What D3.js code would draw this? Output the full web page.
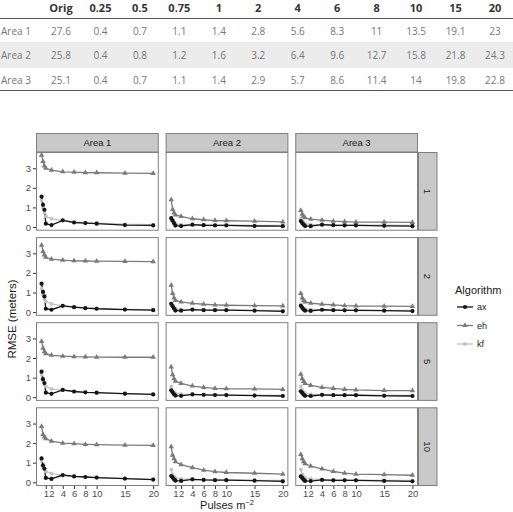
<!DOCTYPE html>
<html>
<head>
<meta charset="utf-8">
<script src="https://cdn.jsdelivr.net/npm/d3@7"></script>
<style>
  body { margin: 0; background: #fff; }
  svg { display: block; }
</style>
</head>
<body>
<svg id="chart" width="513" height="512"></svg>
<script>
// table data
var tableColumns = ['Orig', '0.25', '0.5', '0.75', '1', '2', '4', '6', '8', '10', '15', '20'];
var tableRows = ['Area 1', 'Area 2', 'Area 3'];
var area1Density = ['27.6', '0.4', '0.7', '1.1', '1.4', '2.8', '5.6', '8.3', '11', '13.5', '19.1', '23'];
var area2Density = ['25.8', '0.4', '0.8', '1.2', '1.6', '3.2', '6.4', '9.6', '12.7', '15.8', '21.8', '24.3'];
var area3Density = ['25.1', '0.4', '0.7', '1.1', '1.4', '2.9', '5.7', '8.6', '11.4', '14', '19.8', '22.8'];

// chart data
var pulses = [0.25, 0.5, 0.75, 1, 2, 4, 6, 8, 10, 15, 20];
var xTicks = [1, 2, 4, 6, 8, 10, 15, 20];
var yTicks = [0, 1, 2, 3];
var areas = ['Area 1', 'Area 2', 'Area 3'];
var facets = ['1', '2', '5', '10'];
var algorithms = ['ax', 'eh', 'kf'];

// [facet][area] -> one value per pulse density
var axRmse = [
  [[1.55, 1.13, 0.88, 0.17, 0.1, 0.34, 0.23, 0.2, 0.17, 0.1, 0.08],
   [0.45, 0.33, 0.2, 0.07, 0.05, 0.12, 0.09, 0.08, 0.08, 0.05, 0.04],
   [0.3, 0.2, 0.12, 0.05, 0.04, 0.12, 0.09, 0.08, 0.08, 0.06, 0.04]],
  [[1.45, 1.03, 0.8, 0.17, 0.12, 0.32, 0.25, 0.2, 0.17, 0.13, 0.1],
   [0.42, 0.3, 0.18, 0.08, 0.07, 0.13, 0.1, 0.1, 0.1, 0.07, 0.04],
   [0.32, 0.22, 0.13, 0.07, 0.06, 0.12, 0.1, 0.09, 0.09, 0.07, 0.05]],
  [[1.3, 0.92, 0.72, 0.23, 0.17, 0.37, 0.29, 0.25, 0.23, 0.18, 0.14],
   [0.35, 0.25, 0.15, 0.08, 0.07, 0.14, 0.12, 0.11, 0.11, 0.08, 0.06],
   [0.3, 0.22, 0.13, 0.07, 0.06, 0.12, 0.1, 0.1, 0.1, 0.07, 0.06]],
  [[1.22, 0.87, 0.7, 0.22, 0.17, 0.37, 0.3, 0.27, 0.24, 0.19, 0.14],
   [0.32, 0.25, 0.15, 0.08, 0.07, 0.15, 0.12, 0.11, 0.11, 0.08, 0.05],
   [0.3, 0.22, 0.13, 0.07, 0.06, 0.12, 0.1, 0.1, 0.1, 0.07, 0.05]]
];
var ehRmse = [
  [[3.67, 3.35, 3.12, 3.0, 2.9, 2.82, 2.8, 2.78, 2.77, 2.75, 2.74],
   [1.4, 0.9, 0.72, 0.62, 0.54, 0.42, 0.37, 0.33, 0.32, 0.3, 0.26],
   [0.85, 0.65, 0.55, 0.47, 0.4, 0.35, 0.3, 0.27, 0.25, 0.25, 0.24]],
  [[3.42, 3.1, 2.92, 2.8, 2.7, 2.65, 2.62, 2.61, 2.6, 2.59, 2.58],
   [1.38, 0.95, 0.72, 0.6, 0.52, 0.45, 0.4, 0.37, 0.35, 0.33, 0.32],
   [0.95, 0.72, 0.6, 0.52, 0.46, 0.4, 0.37, 0.33, 0.31, 0.3, 0.29]],
  [[2.85, 2.5, 2.32, 2.22, 2.14, 2.1, 2.07, 2.06, 2.05, 2.04, 2.04],
   [1.55, 1.15, 0.95, 0.82, 0.7, 0.57, 0.5, 0.45, 0.43, 0.42, 0.4],
   [1.17, 0.95, 0.8, 0.7, 0.6, 0.5, 0.45, 0.4, 0.37, 0.34, 0.33]],
  [[2.85, 2.45, 2.32, 2.23, 2.1, 2.0, 1.97, 1.94, 1.92, 1.9, 1.88],
   [1.82, 1.38, 1.2, 1.05, 0.9, 0.75, 0.62, 0.54, 0.5, 0.46, 0.42],
   [1.42, 1.2, 1.05, 0.95, 0.82, 0.68, 0.55, 0.47, 0.42, 0.39, 0.36]]
];
var kfRmse = [
  [[1.35, 1.0, 0.75, 0.55, 0.42, 0.32, 0.25, 0.22, 0.2, 0.14, 0.12],
   [0.35, 0.27, 0.2, 0.16, 0.12, 0.1, 0.1, 0.09, 0.09, 0.08, 0.08],
   [0.45, 0.3, 0.22, 0.17, 0.13, 0.12, 0.11, 0.1, 0.1, 0.09, 0.08]],
  [[1.2, 0.9, 0.7, 0.55, 0.42, 0.32, 0.26, 0.22, 0.19, 0.14, 0.12],
   [0.45, 0.32, 0.24, 0.18, 0.14, 0.12, 0.11, 0.1, 0.1, 0.09, 0.08],
   [0.4, 0.28, 0.2, 0.16, 0.13, 0.12, 0.11, 0.1, 0.1, 0.09, 0.08]],
  [[1.15, 0.85, 0.65, 0.55, 0.42, 0.35, 0.28, 0.25, 0.22, 0.17, 0.14],
   [0.55, 0.35, 0.25, 0.2, 0.16, 0.14, 0.12, 0.12, 0.11, 0.1, 0.09],
   [0.55, 0.35, 0.25, 0.2, 0.15, 0.13, 0.12, 0.11, 0.11, 0.1, 0.09]],
  [[1.1, 0.8, 0.65, 0.55, 0.45, 0.35, 0.3, 0.27, 0.24, 0.19, 0.15],
   [0.65, 0.4, 0.28, 0.22, 0.17, 0.15, 0.13, 0.12, 0.12, 0.1, 0.09],
   [0.65, 0.4, 0.28, 0.22, 0.17, 0.14, 0.12, 0.12, 0.11, 0.1, 0.09]]
];

var svg = d3.select('#chart');
var sans = 'Liberation Sans, Arial, sans-serif';
var tableFont = 'Open Sans, Noto Sans, sans-serif';

// ---- table ----
var colX = d3.scalePoint().domain(tableColumns).range([61, 495]);
var rowY = d3.scalePoint().domain(tableRows).range([31, 80]);
var tableValues = [area1Density, area2Density, area3Density];

svg.append('rect')
  .attr('x', 0).attr('y', 42)
  .attr('width', 513).attr('height', 26)
  .attr('fill', '#ececec');

svg.append('line')
  .attr('x1', 0).attr('x2', 513).attr('y1', 18.5).attr('y2', 18.5)
  .attr('stroke', '#555').attr('stroke-width', 1);
svg.append('line')
  .attr('x1', 0).attr('x2', 513).attr('y1', 90.5).attr('y2', 90.5)
  .attr('stroke', '#555').attr('stroke-width', 1);

svg.append('g').selectAll('text')
  .data(tableColumns)
  .enter().append('text')
  .attr('x', d => colX(d))
  .attr('y', 12)
  .attr('text-anchor', 'middle')
  .attr('font-family', tableFont)
  .attr('font-weight', 'bold')
  .attr('font-size', 11)
  .attr('fill', '#333')
  .text(d => d);

tableRows.forEach(function(row, i) {
  var g = svg.append('g');
  g.append('text')
    .attr('x', 1).attr('y', rowY(row) + 3.5)
    .attr('font-family', tableFont).attr('font-size', 10)
    .attr('fill', '#777')
    .text(row);
  g.selectAll('.cell')
    .data(tableValues[i])
    .enter().append('text')
    .attr('class', 'cell')
    .attr('x', (d, j) => colX(tableColumns[j]))
    .attr('y', rowY(row) + 3.5)
    .attr('text-anchor', 'middle')
    .attr('font-family', tableFont).attr('font-size', 10)
    .attr('fill', '#777')
    .text(d => d);
});

// ---- faceted chart ----
var plotLeft = 36, plotRight = 418, plotTop = 152, plotBottom = 486;
var colScale = d3.scaleBand().domain(areas).range([plotLeft, plotRight]).paddingInner(0.053);
var rowScale = d3.scaleBand().domain(facets).range([plotTop, plotBottom]).paddingInner(0.075);
var pw = colScale.bandwidth(), ph = rowScale.bandwidth();

var xPad = (20 - 0.25) * 0.05;
var x = d3.scaleLinear().domain([0.25 - xPad, 20 + xPad]).range([0, pw]);
var y = d3.scaleLinear().domain([-0.19, 3.83]).range([ph, 0]);

var colour = d3.scaleOrdinal().domain(algorithms).range(['#151515', '#7a7a7a', '#c2c2c2']);
var shape = d3.scaleOrdinal().domain(algorithms)
  .range([d3.symbolCircle, d3.symbolTriangle, d3.symbolSquare]);
var shapeSize = { ax: 14, eh: 13, kf: 11 };
var seriesByAlg = { ax: axRmse, eh: ehRmse, kf: kfRmse };
var drawOrder = ['kf', 'eh', 'ax'];

var line = d3.line()
  .x((d, i) => x(pulses[i]))
  .y(d => y(d));

// column strips
svg.append('g').selectAll('g')
  .data(areas)
  .enter().append('g')
  .attr('transform', d => 'translate(' + colScale(d) + ',133)')
  .each(function(d) {
    var g = d3.select(this);
    g.append('rect').attr('x', 0.5).attr('y', 0.5)
      .attr('width', pw - 1).attr('height', 18.5)
      .attr('fill', '#c9c9c9').attr('stroke', '#7f7f7f');
    g.append('text').attr('x', pw / 2).attr('y', 13.2)
      .attr('text-anchor', 'middle')
      .attr('font-family', sans).attr('font-size', 9.5).attr('fill', '#1a1a1a')
      .text(d);
  });

// row strips
svg.append('g').selectAll('g')
  .data(facets)
  .enter().append('g')
  .attr('transform', d => 'translate(' + plotRight + ',' + rowScale(d) + ')')
  .each(function(d) {
    var g = d3.select(this);
    g.append('rect').attr('x', 0.5).attr('y', 0.5)
      .attr('width', 18.5).attr('height', ph - 1)
      .attr('fill', '#c9c9c9').attr('stroke', '#7f7f7f');
    g.append('text')
      .attr('transform', 'translate(' + 9.5 + ',' + (ph / 2) + ') rotate(90)')
      .attr('text-anchor', 'middle').attr('dy', '0.35em')
      .attr('font-family', sans).attr('font-size', 9.5).attr('fill', '#1a1a1a')
      .text(d);
  });

facets.forEach(function(facet, r) {
  areas.forEach(function(area, c) {
    var panel = svg.append('g')
      .attr('transform', 'translate(' + colScale(area) + ',' + rowScale(facet) + ')');

    panel.append('rect')
      .attr('x', 0.5).attr('y', 0.5)
      .attr('width', pw - 1).attr('height', ph - 1)
      .attr('fill', '#fff').attr('stroke', '#7f7f7f');

    drawOrder.forEach(function(alg) {
      panel.append('path')
        .datum(seriesByAlg[alg][r][c])
        .attr('d', line)
        .attr('fill', 'none')
        .attr('stroke', colour(alg))
        .attr('stroke-width', 1.3);
    });
    drawOrder.forEach(function(alg) {
      panel.selectAll('.pt-' + alg)
        .data(seriesByAlg[alg][r][c])
        .enter().append('path')
        .attr('class', 'pt-' + alg)
        .attr('transform', (d, i) => 'translate(' + x(pulses[i]) + ',' + y(d) + ')')
        .attr('d', d3.symbol().type(shape(alg)).size(shapeSize[alg]))
        .attr('fill', colour(alg));
    });

    if (c === 0) {
      var yAxis = panel.append('g')
        .call(d3.axisLeft(y).tickValues(yTicks).tickSize(3).tickPadding(2).tickFormat(d3.format('d')));
      yAxis.select('.domain').remove();
      yAxis.selectAll('line').attr('stroke', '#333');
      yAxis.selectAll('text').attr('font-family', sans).attr('font-size', 9.5).attr('fill', '#4d4d4d');
    }
    if (r === facets.length - 1) {
      var xAxis = panel.append('g')
        .attr('transform', 'translate(0,' + ph + ')')
        .call(d3.axisBottom(x).tickValues(xTicks).tickSize(3).tickPadding(1.5));
      xAxis.select('.domain').remove();
      xAxis.selectAll('line').attr('stroke', '#333');
      xAxis.selectAll('text').attr('font-family', sans).attr('font-size', 9.5).attr('fill', '#4d4d4d');
    }
  });
});

// axis titles
svg.append('text')
  .attr('transform', 'translate(16,' + ((plotTop + plotBottom) / 2) + ') rotate(-90)')
  .attr('text-anchor', 'middle')
  .attr('font-family', sans).attr('font-size', 11.5).attr('fill', '#1a1a1a')
  .text('RMSE (meters)');

var xTitle = svg.append('text')
  .attr('x', (plotLeft + plotRight) / 2).attr('y', 509)
  .attr('text-anchor', 'middle')
  .attr('font-family', sans).attr('font-size', 11).attr('fill', '#1a1a1a');
xTitle.append('tspan').text('Pulses m');
xTitle.append('tspan').attr('dy', -4.5).attr('font-size', 7.5).text('\u22122');

// legend
var legend = svg.append('g').attr('transform', 'translate(455,0)');
legend.append('text')
  .attr('x', 0).attr('y', 294)
  .attr('font-family', sans).attr('font-size', 11).attr('fill', '#1a1a1a')
  .text('Algorithm');
var keyY = d3.scalePoint().domain(algorithms).range([307, 344]);
algorithms.forEach(function(alg) {
  var k = legend.append('g').attr('transform', 'translate(0,' + keyY(alg) + ')');
  k.append('line').attr('x1', 2).attr('x2', 18)
    .attr('stroke', colour(alg)).attr('stroke-width', 1.3);
  k.append('path').attr('transform', 'translate(10,0)')
    .attr('d', d3.symbol().type(shape(alg)).size(shapeSize[alg]))
    .attr('fill', colour(alg));
  k.append('text').attr('x', 22).attr('y', 3.2)
    .attr('font-family', sans).attr('font-size', 9).attr('fill', '#1a1a1a')
    .text(alg);
});
</script>
</body>
</html>
